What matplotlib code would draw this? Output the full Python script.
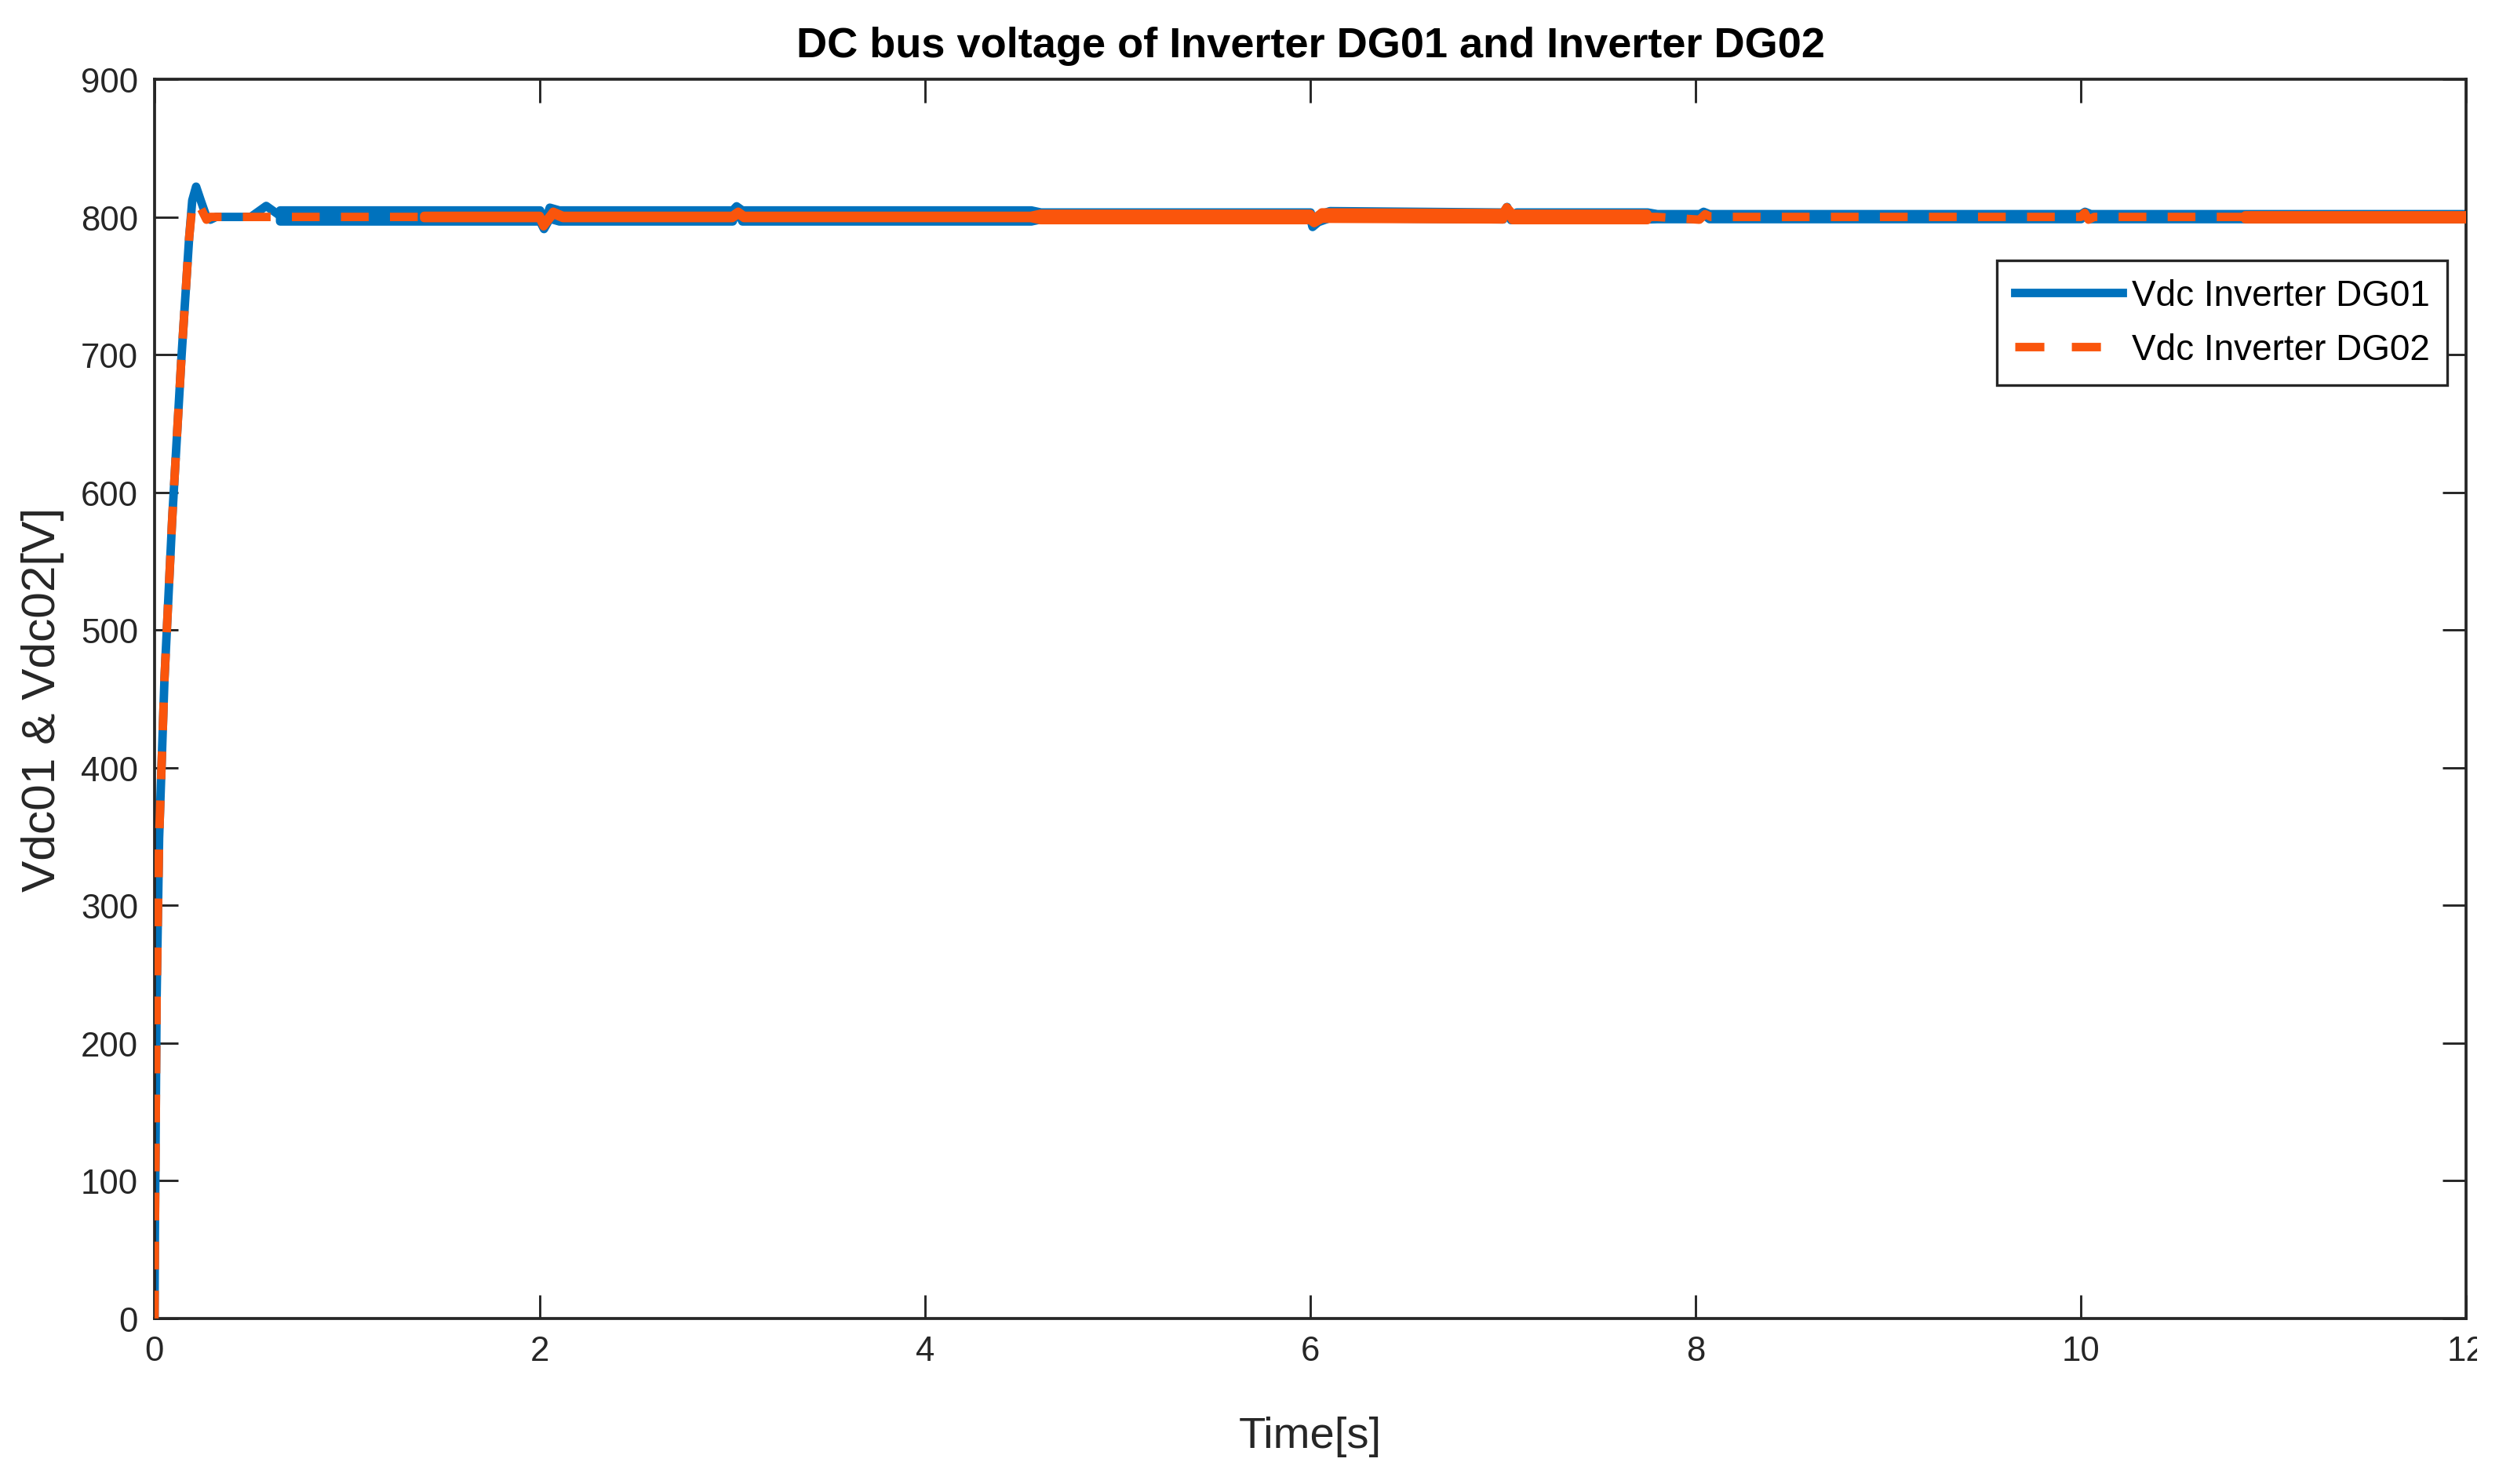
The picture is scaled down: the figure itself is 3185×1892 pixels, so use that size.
import numpy as np
import matplotlib
matplotlib.use('Agg')
import matplotlib.pyplot as plt
from matplotlib.lines import Line2D
from matplotlib.transforms import Bbox

plt.rcParams['font.family'] = ['Liberation Sans', 'DejaVu Sans']
plt.rcParams['lines.scale_dashes'] = False

# DG01 knots (time s, voltage V, ripple half band V)
t_dg01 = [0, 0.002, 0.005, 0.011, 0.024, 0.052, 0.092, 0.14, 0.18, 0.196,
          0.216, 0.24, 0.27, 0.29, 0.32, 0.50, 0.56, 0.58, 0.61, 0.65,
          2.00, 2.02, 2.05, 2.10, 3.00, 3.02, 3.05, 4.55, 4.60,
          6.00, 6.01, 6.04, 6.10, 7.00, 7.02, 7.04, 7.07, 7.75, 7.80,
          8.02, 8.04, 8.07, 10.00, 10.02, 10.05, 12.0]
v_dg01 = [0, 60, 116, 233, 349, 465, 581, 698, 785, 812,
          822, 812, 800, 798, 800, 800, 806, 808, 805, 801,
          801, 793, 803, 801, 801, 807, 801, 801, 801,
          801, 794, 799, 802, 801, 807, 799, 801, 801, 800.5,
          800.5, 803, 800.5, 800.5, 803, 800.5, 800.5]
rip_dg01 = [0, 0, 0, 0, 0, 0, 0, 0, 0, 0,
            0, 0, 0, 0, 0, 0, 0, 0, 0, 4.0,
            4.0, 1.5, 4.0, 4.0, 4.0, 1.0, 4.0, 4.0, 2.5,
            2.5, 1.0, 2.5, 2.5, 2.5, 0.5, 1.0, 2.5, 2.5, 1.8,
            1.8, 1.0, 1.8, 1.8, 1.0, 1.8, 1.8]

# DG02 knots
t_dg02 = [0, 0.002, 0.005, 0.011, 0.024, 0.052, 0.092, 0.14, 0.18, 0.196,
          0.225, 0.245, 0.27, 0.29, 1.35, 1.40, 2.00, 2.02, 2.07, 2.12,
          3.00, 3.03, 3.06, 4.55, 4.60, 6.00, 6.02, 6.06, 7.00, 7.02, 7.05,
          7.75, 7.80, 8.02, 8.05, 8.08, 10.00, 10.02, 10.04, 10.07,
          10.80, 10.85, 12.0]
v_dg02 = [0, 60, 116, 233, 349, 465, 581, 698, 785, 808,
          810.5, 805, 798, 800, 800, 800, 800, 794, 803, 800,
          800, 803, 800, 800, 800, 800, 797, 801, 800.5, 806, 800,
          800, 800, 798, 802, 800, 800, 803, 798, 800,
          800, 800, 800]
rip_dg02 = [0, 0, 0, 0, 0, 0, 0, 0, 0, 0,
            0, 0, 0, 0, 0, 0.8, 0.8, 0.8, 0.8, 0.8,
            0.8, 0.8, 0.8, 0.8, 2.3, 2.3, 1.5, 2.3, 2.3, 1.0, 2.3,
            2.3, 0, 0, 0, 0, 0, 0, 0, 0,
            0, 1.2, 1.2]

x_ticks = [0, 2, 4, 6, 8, 10, 12]
y_ticks = [0, 100, 200, 300, 400, 500, 600, 700, 800, 900]

c_blue = '#0072BD'
c_orange = '#FA550C'
c_axis = '#262626'
lw = 2.6
dash = (0, (8.5, 6.5))

fig = plt.figure(figsize=(3186/300, 1893/300), dpi=300)
ax = fig.add_axes([0.0618, 0.1115, 0.9247, 0.8346])

t1 = np.array(t_dg01); v1 = np.array(v_dg01); r1 = np.array(rip_dg01)
t2 = np.array(t_dg02); v2 = np.array(v_dg02); r2 = np.array(rip_dg02)

# DG01: solid line plus the ripple band
ax.fill_between(t1, v1 - r1, v1 + r1, where=r1 > 0, color=c_blue,
                linewidth=lw, edgecolor=c_blue, zorder=2)
ax.plot(t1, v1, color=c_blue, lw=lw, solid_capstyle='round', zorder=2)

# DG02: dashed line, band where the dashes run together
ax.fill_between(t2, v2 - r2, v2 + r2, where=r2 > 0, color=c_orange,
                linewidth=lw, edgecolor=c_orange, zorder=3)
ax.plot(t2, v2, color=c_orange, lw=lw, linestyle=dash, zorder=3)

ax.set_xlim(0, 12)
ax.set_ylim(0, 900)
ax.set_xticks(x_ticks)
ax.set_yticks(y_ticks)
ax.tick_params(direction='in', top=True, right=True, length=7.2, width=0.7,
               color=c_axis, labelcolor=c_axis, labelsize=10.5, pad=5)
for s in ax.spines.values():
    s.set_linewidth(0.9)
    s.set_color(c_axis)

# the last x label is cut by the image edge in the original
last = ax.xaxis.get_major_ticks()[-1].label1
last.set_clip_on(True)
last.set_clip_box(Bbox([[0, 0], [3157, 1893]]))

ax.set_title('DC bus voltage of Inverter DG01 and Inverter DG02',
             fontsize=13, fontweight='bold', color='black', pad=7)
ax.set_xlabel('Time[s]', fontsize=13.5, color=c_axis, labelpad=15)
ax.set_ylabel('Vdc01 & Vdc02[V]', fontsize=14.5, color=c_axis, labelpad=5)

handles = [Line2D([], [], color=c_blue, lw=lw),
           Line2D([], [], color=c_orange, lw=lw, linestyle=(0, (8.9, 8.4)))]
leg = ax.legend(handles, ['Vdc Inverter DG01', 'Vdc Inverter DG02'],
                loc='upper right', bbox_to_anchor=(0.992, 0.854),
                fontsize=11, frameon=True, fancybox=False, framealpha=1,
                edgecolor=c_axis, handlelength=3.0, handletextpad=0.25,
                borderpad=0.5, labelspacing=0.55, borderaxespad=0)
leg.get_frame().set_linewidth(0.8)

fig.savefig('out.png', dpi=300)
